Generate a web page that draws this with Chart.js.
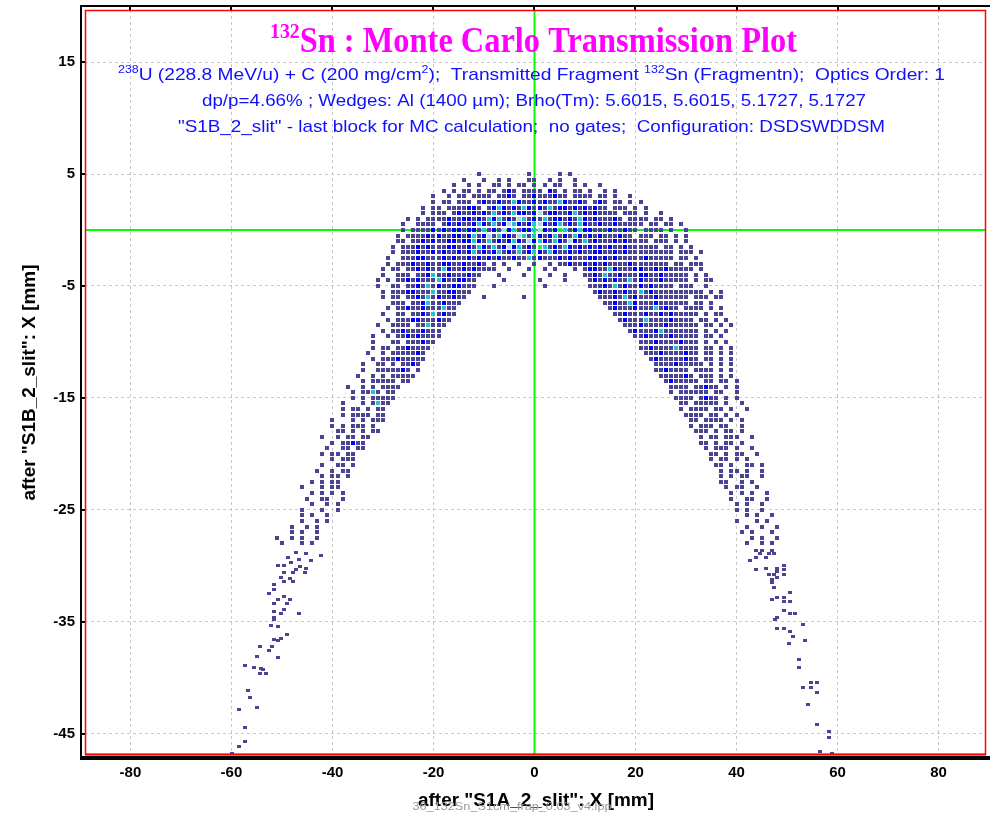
<!DOCTYPE html>
<html>
<head>
<meta charset="utf-8">
<script src="https://cdn.jsdelivr.net/npm/chart.js@4.4.1/dist/chart.umd.min.js"></script>
<style>
  html, body { margin: 0; padding: 0; background: #fff; }
  #wrap { width: 990px; height: 814px; }
</style>
</head>
<body>
<div id="wrap"><canvas id="mcChart" width="990" height="814"></canvas></div>
<script>
const xTickValues = [-80, -60, -40, -20, 0, 20, 40, 60, 80];
const yTickValues = [15, 5, -5, -15, -25, -35, -45];

// histogram cells: [y, first x, cells], one cell per mm in x
// '.' empty, 1 = few counts ... 5 = most counts
const apexRows = [
  [5.0, -11, '1.........1.....1.1.'],
  [4.5, -14, '1...1..1.1...11..1.1..1.'],
  [4.0, -16, '1..1.1..11.1.11.1.1.11..1.1..1'],
  [3.5, -18, '1.1.11.1.11.121.1111.21.1.11.1..1.1'],
  [3.0, -20, '1..1.11.1111.1121.112111211.1111.11.1..1'],
  [2.5, -21, '.1.11.111.1211211321121211321121.121.11.1.1'],
  [2.0, -22, '1.11.1111221.12321213212131221212121 1.111.1.1.'.replace(' ', '')],
  [1.5, -24, '..1.111.121121213121322124122112312121111.111.1..1'],
  [1.0, -25, '1.1.1111211221213231214312131221213212111 21.1111.11.1'.replace(' ', '')],
  [0.5, -26, '1..1111.1212112321312432123421231213211211211111.11.11.1'],
  [0.0, -26, '1.11112121221221312142312234212531232211121121 1.1111.1..1'.replace(' ', '')],
  [-0.5, -27, '1.11112121122123124132214313212312132121211121 1.111.11.1.1.'.replace(' ', '')],
  [-1.0, -27, '11.112121122122321312123214232132142131211121211 11.111.1.1..'.replace(' ', '')],
  [-1.5, -28, '1.111212111221121321312423121531213212121212112111111.11.1.1.'],
  [-2.0, -28, '1.111211212112123121231213123213211212112211212111111111.111.1.'],
  [-2.5, -29, '1..111221112121121212121121131211121211122121211111211111.11.1.'],
  [-3.0, -29, '1.111211211221121121.1.1..1..1..1.1121121212111121111111.11.111'],
  [-3.5, -8, '1..1...1..1.1...1.'],
  [-4.0, -9, '..1....1....1..1...'],
  [-4.5, -10, '....1......1....1....'],
  [-5.0, -11, '...1.........1......'],
  [-6.0, -13, '...1.......1..']
];

const leftArmRows = [
  [-3.5, -30, '1.11.112121132112121111'],
  [-4.0, -30, '1..111.1123112111211'],
  [-4.5, -31, '1.1.1121211132112211'],
  [-5.0, -31, '1..11.11213121122111'],
  [-5.5, -31, '.1.1112211131122111'],
  [-6.0, -30, '1.11.112131211211'],
  [-6.5, -30, '..111.1123112111'],
  [-7.0, -29, '1.112112111311'],
  [-7.5, -30, '1..11.112131211'],
  [-8.0, -30, '.1.11122111211'],
  [-8.5, -31, '1..1111.113111'],
  [-9.0, -31, '.1.1121112111'],
  [-9.5, -32, '1..1.112121111'],
  [-10.0, -32, '1...11.111211'],
  [-10.5, -33, '.1.11.1121111'],
  [-11.0, -33, '1..1.1111121'],
  [-11.5, -34, '..1.111211111'],
  [-12.0, -34, '1..11.1.1121'],
  [-12.5, -35, '.1..1111121.1'],
  [-13.0, -35, '1..1.1.11111'],
  [-13.5, -36, '..1.11111.11'],
  [-14.0, -37, '1..1.1.1111'],
  [-14.5, -37, '.1.1131.11.'],
  [-15.0, -38, '..1.1.11111'],
  [-15.5, -38, '1...1.1311'],
  [-16.0, -39, '.1.11.1.11.'],
  [-16.5, -40, '..1.1111.11'],
  [-17.0, -40, '1...1.1.111'],
  [-17.5, -41, '.1.1.111.1.'],
  [-18.0, -41, '..11.1.1.11'],
  [-18.5, -42, '1..1.11.11'],
  [-19.0, -42, '..1.11211'],
  [-19.5, -42, '.1..11.11'],
  [-20.0, -42, '1.11.11.'],
  [-20.5, -42, '..1.111.'],
  [-21.0, -43, '.1..11.1'],
  [-21.5, -43, '1..1.11.'],
  [-22.0, -44, '..1.11.1'],
  [-22.5, -45, '.1.1.11..'],
  [-23.0, -46, '1...1.11.'],
  [-23.5, -46, '..1.1.1.1'],
  [-24.0, -46, '.1..11..1'],
  [-24.5, -46, '..1..1.1'],
  [-25.0, -46, '1...1..1'],
  [-25.5, -47, '.1.1..1.'],
  [-26.0, -48, '..1..1.1'],
  [-26.5, -49, '.1..1.1..'],
  [-27.0, -50, '..1.1..1.'],
  [-27.5, -51, '1..1.1..1'],
  [-28.0, -51, '.1...1.1.']
];

const rightArmRows = [
  [-3.5, 10, '1221132111221121211111.1.'],
  [-4.0, 10, '112131121112211211111.1.1'],
  [-4.5, 11, '12121211312111211111.1.11'],
  [-5.0, 11, '11121312112121111.111..1.'],
  [-5.5, 12, '1211212113121111111111.1.1'],
  [-6.0, 13, '111213121112111111.111.11'],
  [-6.5, 14, '11211321112111111.11.1.'],
  [-7.0, 15, '12111211131211.1111.1.1'],
  [-7.5, 16, '11211121121211111.1.11'],
  [-8.0, 17, '121113111121111.11.1.1'],
  [-8.5, 18, '111211112111111.11.1.1'],
  [-9.0, 19, '12111231111111.1.1.1'],
  [-9.5, 20, '1121111211111.11.1.'],
  [-10.0, 21, '111211112111.1.1.1'],
  [-10.5, 21, '112111131111.11.1.1'],
  [-11.0, 22, '11121111211.11.1.1'],
  [-11.5, 23, '1211111211.11.1.1'],
  [-12.0, 24, '1111211111.1.1.1'],
  [-12.5, 24, '1121111.1111.1.1.'],
  [-13.0, 25, '1111121.111.1.1.'],
  [-13.5, 26, '1211111.11.11.1'],
  [-14.0, 27, '1111.11211.1.1.'],
  [-14.5, 27, '1.111111.11..1.'],
  [-15.0, 28, '1111.1211.1.1.'],
  [-15.5, 29, '11.11111.1..1.'],
  [-16.0, 29, '1.1111.11.1..1'],
  [-16.5, 30, '1111.11.1.1..'],
  [-17.0, 31, '11.1111.1.1..'],
  [-17.5, 31, '1.111.11..1..'],
  [-18.0, 32, '111.1.11.1...'],
  [-18.5, 33, '1.11.111..1.'],
  [-19.0, 33, '11.1.11.1...'],
  [-19.5, 34, '1.111.1..1..'],
  [-20.0, 35, '11.1.11..1.'],
  [-20.5, 35, '1.11.1.1...'],
  [-21.0, 36, '11.1..11.1.'],
  [-21.5, 36, '.1.11.1..1.'],
  [-22.0, 37, '1.1.11..1.'],
  [-22.5, 37, '11..1.1...'],
  [-23.0, 38, '1.11..1..'],
  [-23.5, 38, '.1.1.1..1.'],
  [-24.0, 39, '1..11..1.'],
  [-24.5, 39, '.1.1..1..'],
  [-25.0, 40, '1.1..1..'],
  [-25.5, 40, '..1.1..1.'],
  [-26.0, 40, '1...1.1..'],
  [-26.5, 41, '.1..1..1'],
  [-27.0, 41, '1.1...1.'],
  [-27.5, 42, '.1.1..1'],
  [-28.0, 42, '1..1.1.']
];

// single counts in the two tails [x, y]
const leftTail = [
  [-47.2, -28.8], [-45.2, -28.9], [-42.2, -29.1], [-48.8, -29.3], [-46.7, -29.4], [-44.2, -29.5],
  [-48.2, -29.7], [-50.8, -30.0], [-49.5, -30.0], [-46.5, -30.1], [-45.3, -30.2], [-47.2, -30.3],
  [-49.5, -30.6], [-47.8, -30.6], [-45.5, -30.6], [-50.1, -31.0], [-48.5, -31.1], [-49.5, -31.4],
  [-47.8, -31.4], [-51.5, -31.7], [-51.5, -32.1], [-52.6, -32.5], [-49.5, -32.7], [-50.8, -33.0],
  [-48.5, -33.0], [-51.5, -33.4], [-49.0, -33.4], [-49.5, -33.9], [-51.5, -34.1], [-50.1, -34.3],
  [-46.7, -34.3], [-51.5, -34.6], [-51.5, -34.8], [-52.1, -35.3], [-50.8, -35.4], [-49.0, -36.1],
  [-50.1, -36.5], [-51.5, -36.6], [-50.8, -36.7], [-51.9, -37.2], [-54.3, -37.2], [-52.6, -37.6],
  [-55.0, -38.1], [-50.8, -38.2], [-57.4, -38.9], [-55.6, -39.1], [-54.1, -39.2], [-53.8, -39.3],
  [-54.4, -39.6], [-53.1, -39.6], [-56.7, -41.1], [-56.3, -41.8], [-55.0, -42.7], [-58.6, -42.8],
  [-57.4, -44.4], [-57.4, -45.7], [-58.6, -46.1], [-59.8, -46.8]
];
const rightTail = [
  [43.9, -28.6], [45.0, -28.6], [47.0, -28.6], [44.6, -28.9], [46.5, -28.9], [47.4, -28.9],
  [43.9, -29.3], [45.8, -29.3], [42.7, -29.5], [49.4, -30.0], [43.9, -30.3], [45.8, -30.2],
  [48.1, -30.2], [49.4, -30.3], [48.1, -30.5], [46.4, -30.8], [47.5, -30.8], [49.4, -30.8],
  [48.1, -31.0], [47.0, -31.2], [47.0, -31.5], [47.5, -31.9], [50.5, -32.4], [48.1, -32.8],
  [49.4, -32.8], [47.0, -33.0], [49.4, -33.2], [50.5, -33.2], [49.4, -34.0], [50.5, -34.3],
  [51.6, -34.3], [48.1, -34.6], [47.7, -34.8], [53.1, -35.2], [48.1, -35.6], [49.4, -35.6],
  [50.5, -35.9], [51.2, -36.3], [53.6, -36.7], [50.3, -36.9], [52.3, -38.4], [52.3, -39.1],
  [54.7, -40.4], [55.9, -40.4], [53.1, -40.9], [54.7, -40.9], [55.9, -41.3], [54.1, -42.4],
  [55.9, -44.2], [58.4, -44.8], [58.4, -45.3], [56.6, -46.6], [58.9, -46.8]
];

const levelColors = ['#4b4394', '#0000ff', '#22c4d4', '#a9d8e4', '#33e833'];

function cellMark(color, w, h) {
  const c = document.createElement('canvas');
  c.width = w; c.height = h;
  const g = c.getContext('2d');
  g.fillStyle = color;
  g.fillRect(0, 0, w, h);
  return c;
}

const levelPoints = levelColors.map(() => []);
[apexRows, leftArmRows, rightArmRows].forEach(rows => {
  rows.forEach(([y, x0, cells]) => {
    [...cells].forEach((c, i) => {
      if (c >= '1' && c <= '5') levelPoints[+c - 1].push({ x: x0 + i, y: y });
    });
  });
});
const tailPoints = leftTail.concat(rightTail).map(([x, y]) => ({ x, y }));

const datasets = [];
for (let k = levelColors.length - 1; k >= 0; k--) {
  datasets.push({
    label: 'level ' + (k + 1),
    data: levelPoints[k],
    pointStyle: cellMark(levelColors[k], 4, 4),
    pointRadius: 2,
    order: k
  });
}
datasets.push({
  label: 'tails',
  data: tailPoints,
  pointStyle: cellMark(levelColors[0], 4, 3),
  pointRadius: 2,
  order: 9
});

function drawRich(ctx, parts, cx, base, targetW, size, family, weight, color) {
  const supSize = Math.round(size * 0.62);
  const fontOf = p => `${weight} ${p.sup ? supSize : size}px ${family}`;
  let w = 0;
  parts.forEach(p => { ctx.font = fontOf(p); w += ctx.measureText(p.t).width; });
  const k = targetW ? targetW / w : 1;
  ctx.save();
  ctx.translate(cx - w * k / 2, base);
  ctx.scale(k, 1);
  ctx.fillStyle = color;
  ctx.textAlign = 'left';
  ctx.textBaseline = 'alphabetic';
  let x = 0;
  parts.forEach(p => {
    ctx.font = fontOf(p);
    ctx.fillText(p.t, x, p.sup ? -size * 0.4 : 0);
    x += ctx.measureText(p.t).width;
  });
  ctx.restore();
}

const decorations = {
  id: 'decorations',
  beforeDatasetsDraw(chart) {
    const { ctx, chartArea: a, scales: { x, y } } = chart;
    const x0 = x.getPixelForValue(0), y0 = y.getPixelForValue(0);
    ctx.save();
    ctx.strokeStyle = '#00ff00';
    ctx.lineWidth = 2;
    ctx.beginPath();
    ctx.moveTo(x0, a.top); ctx.lineTo(x0, a.bottom);
    ctx.moveTo(a.left, y0); ctx.lineTo(a.right, y0);
    ctx.stroke();
    ctx.restore();
  },
  afterDraw(chart) {
    const { ctx, chartArea: a, scales: { x, y } } = chart;
    ctx.save();
    // frames
    ctx.fillStyle = '#000';
    ctx.fillRect(a.left - 5, a.top - 5, 2, a.bottom - a.top + 10);
    ctx.fillRect(a.left - 5, a.top - 5, chart.width, 2);
    ctx.fillRect(a.left - 5, a.bottom + 1, chart.width, 4);
    xTickValues.forEach(v => ctx.fillRect(Math.round(x.getPixelForValue(v)) - 1, a.top - 3, 2, 3));
    yTickValues.forEach(v => ctx.fillRect(a.left - 3, Math.round(y.getPixelForValue(v)) - 1, 3, 2));
    ctx.strokeStyle = '#ff0000';
    ctx.lineWidth = 1.5;
    ctx.strokeRect(a.left + 0.5, a.top + 0.5, a.right - a.left - 1, a.bottom - a.top - 1);
    ctx.fillStyle = '#ff0000';
    ctx.fillRect(a.left, a.bottom - 1.5, a.right - a.left, 2);

    // title block
    const serif = '"Liberation Serif", "Times New Roman", serif';
    const sans = '"Liberation Sans", Arial, sans-serif';
    drawRich(ctx, [{ t: '132', sup: true }, { t: 'Sn : Monte Carlo Transmission Plot' }],
      533.5, 52, 527, 36, serif, 'bold', '#ff00ff');
    const blue = '#1010ff';
    drawRich(ctx, [{ t: '238', sup: true }, { t: 'U (228.8 MeV/u) + C (200 mg/cm' }, { t: '2', sup: true },
      { t: ');  Transmitted Fragment ' }, { t: '132', sup: true }, { t: 'Sn (Fragmentn);  Optics Order: 1' }],
      531.5, 80, 827, 17, sans, 'normal', blue);
    drawRich(ctx, [{ t: 'dp/p=4.66% ; Wedges: Al (1400 \u00b5m); Brho(Tm): 5.6015, 5.6015, 5.1727, 5.1727' }],
      534, 106, 664, 17, sans, 'normal', blue);
    drawRich(ctx, [{ t: '"S1B_2_slit" - last block for MC calculation;  no gates;  Configuration: DSDSWDDSM' }],
      531.5, 132, 707, 17, sans, 'normal', blue);

    // axis titles
    drawRich(ctx, [{ t: 'after "S1A_2_slit": X [mm]' }], 536, 806, 236, 18, sans, 'bold', '#000');
    ctx.save();
    ctx.translate(35, (a.top + a.bottom) / 2);
    ctx.rotate(-Math.PI / 2);
    drawRich(ctx, [{ t: 'after "S1B_2_slit": X [mm]' }], 0, 0, 236, 18, sans, 'bold', '#000');
    ctx.restore();

    // file tag under the plot
    drawRich(ctx, [{ t: '36_132Sn_S1cm_frap_0.03_v4.lpp' }], 512, 810, 199, 11, sans, 'normal', '#9a9a9a');
    ctx.restore();
  }
};

const tickFont = { family: '"Liberation Sans", Arial, sans-serif', size: 15, weight: 'bold' };

new Chart(document.getElementById('mcChart'), {
  type: 'scatter',
  data: { datasets: datasets },
  options: {
    responsive: false,
    animation: false,
    events: [],
    layout: { padding: { top: 10, right: 2, left: 0, bottom: 0 } },
    plugins: { legend: { display: false }, tooltip: { enabled: false } },
    elements: { point: { borderWidth: 0 } },
    scales: {
      x: {
        type: 'linear',
        min: -89,
        max: 89.4,
        afterBuildTicks: s => { s.ticks = xTickValues.map(v => ({ value: v })); },
        afterFit: s => { s.height = 59; s.paddingLeft = 0; s.paddingRight = 0; },
        grid: { color: '#c8c8c8', lineWidth: 1, drawTicks: false },
        border: { display: false, dash: [3, 3] },
        ticks: { autoSkip: false, maxRotation: 0, color: '#000', font: tickFont, padding: 9 }
      },
      y: {
        type: 'linear',
        min: -46.9,
        max: 19.65,
        afterBuildTicks: s => { s.ticks = yTickValues.map(v => ({ value: v })); },
        afterFit: s => { s.width = 85; s.paddingTop = 0; s.paddingBottom = 0; },
        grid: { color: '#c8c8c8', lineWidth: 1, drawTicks: false },
        border: { display: false, dash: [3, 3] },
        ticks: { autoSkip: false, color: '#000', font: tickFont, padding: 10 }
      }
    }
  },
  plugins: [decorations]
});
</script>
</body>
</html>
